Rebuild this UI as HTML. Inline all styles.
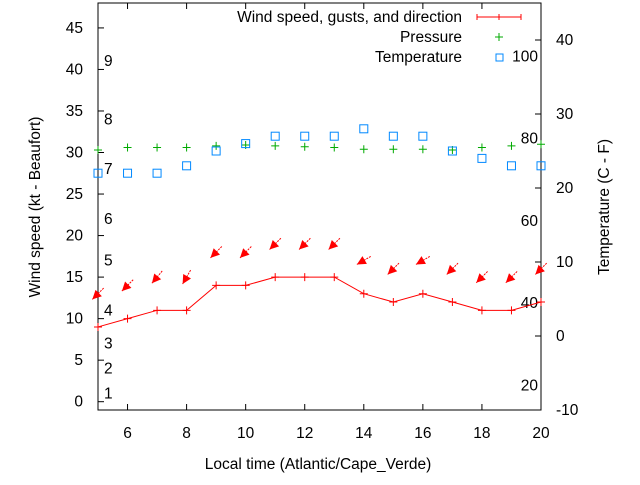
<!DOCTYPE html>
<html><head><meta charset="utf-8"><style>
body{margin:0;background:#fff}
svg text{font-family:"Liberation Sans",sans-serif;font-size:15.5px;fill:#000}
</style></head><body>
<svg id="c" width="640" height="480" viewBox="0 0 640 480"></svg>
<script>
const hours=[5,6,7,8,9,10,11,12,13,14,15,16,17,18,19,20];
const wind=[9,10,11,11,14,14,15,15,15,13,12,13,12,11,11,12];
const gusts=[13,14,15,15,18,18,19,19,19,17,16,17,16,15,15,16];
const dirs=[45,45,40,30,45,45,45,45,45,60,45,60,45,45,45,45];
const pressure=[30.3,30.6,30.6,30.6,30.8,30.9,30.8,30.7,30.6,30.4,30.4,30.4,30.3,30.6,30.8,31.0];
const temps=[22,22,22,23,25,26,27,27,27,28,27,27,25,24,23,23];
const xTicks=[6,8,10,12,14,16,18,20];
const yTicks=[0,5,10,15,20,25,30,35,40,45];
const y2Ticks=[-10,0,10,20,30,40];
const beaufort=[[1,1],[2,4],[3,7],[4,11],[5,17],[6,22],[7,28],[8,34],[9,41]];
const fahr=[[20,-6.67],[40,4.44],[60,15.56],[80,26.67],[100,37.78]];

const L=98,R=541,T=3,B=410;
const X=h=>L+(h-5)/15*(R-L);
const Y=v=>B-(v+1)/49*(B-T);
const Y2=v=>B-(v+10)/55*(B-T);
const svg=document.getElementById('c');
const NS='http://www.w3.org/2000/svg';
function mk(tag,at,parent){const e=document.createElementNS(NS,tag);for(const k in at)e.setAttribute(k,at[k]);(parent||svg).appendChild(e);return e;}
function txt(x,y,s,anchor){const t=mk('text',{x:x,y:y,'text-anchor':anchor||'start'});t.textContent=s;return t;}

let e=mk('rect',{x:L,y:T,width:R-L,height:B-T,fill:'none',stroke:'#000','stroke-width':1});


xTicks.forEach(h=>{
  mk('line',{x1:X(h),x2:X(h),y1:B,y2:B-6,stroke:'#000'});
  mk('line',{x1:X(h),x2:X(h),y1:T,y2:T+6,stroke:'#000'});
  const t=txt(X(h),B+28,String(h),'middle');
  
});
yTicks.forEach(v=>{
  mk('line',{x1:L,x2:L+6,y1:Y(v),y2:Y(v),stroke:'#000'});
  const t=txt(L-15,Y(v)+5,String(v),'end');
  
});
y2Ticks.forEach(v=>{
  mk('line',{x1:R,x2:R-6,y1:Y2(v),y2:Y2(v),stroke:'#000'});
  const t=txt(R+15,Y2(v)+5,String(v),'start');
  
});
beaufort.forEach(([b,v])=>{const t=txt(104,Y(v)+5,String(b));
  });
fahr.forEach(([f,c])=>{const t=txt(538,Y2(c)+5,String(f),'end');
  });

const pts=hours.map((h,i)=>X(h)+','+Y(wind[i])).join(' ');
e=mk('polyline',{points:pts,fill:'none',stroke:'#f00','stroke-width':1});

hours.forEach((h,i)=>{
  const g=mk('path',{d:`M${X(h)-4},${Y(wind[i])}h8M${X(h)},${Y(wind[i])-4}v8`,stroke:'#f00'});
  
});
hours.forEach((h,i)=>{
  const a=dirs[i]*Math.PI/180, cx=X(h), cy=Y(gusts[i]);
  const dx=Math.sin(a)*8, dy=-Math.cos(a)*8;
  const tx=cx-dx,ty=cy-dy,sx=cx+dx,sy=cy+dy;
  const g=mk('g',{});
  
  mk('line',{x1:sx,y1:sy,x2:tx,y2:ty,stroke:'#f00','stroke-dasharray':'2,1'},g);
  const ux=dx/8,uy=dy/8,px=-uy,py=ux;
  mk('polygon',{points:`${tx},${ty} ${tx+ux*9+px*4.5},${ty+uy*9+py*4.5} ${tx+ux*9-px*4.5},${ty+uy*9-py*4.5}`,fill:'#f00'},g);
});
hours.forEach((h,i)=>{
  const g=mk('path',{d:`M${X(h)-4},${Y(pressure[i])}h8M${X(h)},${Y(pressure[i])-4}v8`,stroke:'#0a0'});
  
});
hours.forEach((h,i)=>{
  const g=mk('rect',{x:X(h)-4,y:Y2(temps[i])-4,width:8,height:8,fill:'none',stroke:'#08f'});
  
});
let lg=txt(462,22,'Wind speed, gusts, and direction','end');

mk('path',{d:'M477,17h44M477,14v6M499,14v6M521,14v6',stroke:'#f00'});
lg=txt(462,42,'Pressure','end');

mk('path',{d:'M495,37h8M499,33v8',stroke:'#0a0'});
lg=txt(462,62,'Temperature','end');

mk('rect',{x:496,y:54,width:7,height:7,fill:'none',stroke:'#08f'});
let at=txt(318,469,'Local time (Atlantic/Cape_Verde)','middle');

at=txt(0,0,'Wind speed (kt - Beaufort)','middle');at.setAttribute('transform','translate(40,207) rotate(-90)');

at=txt(0,0,'Temperature (C - F)','middle');at.setAttribute('transform','translate(609,207) rotate(-90)');

</script>
</body></html>
